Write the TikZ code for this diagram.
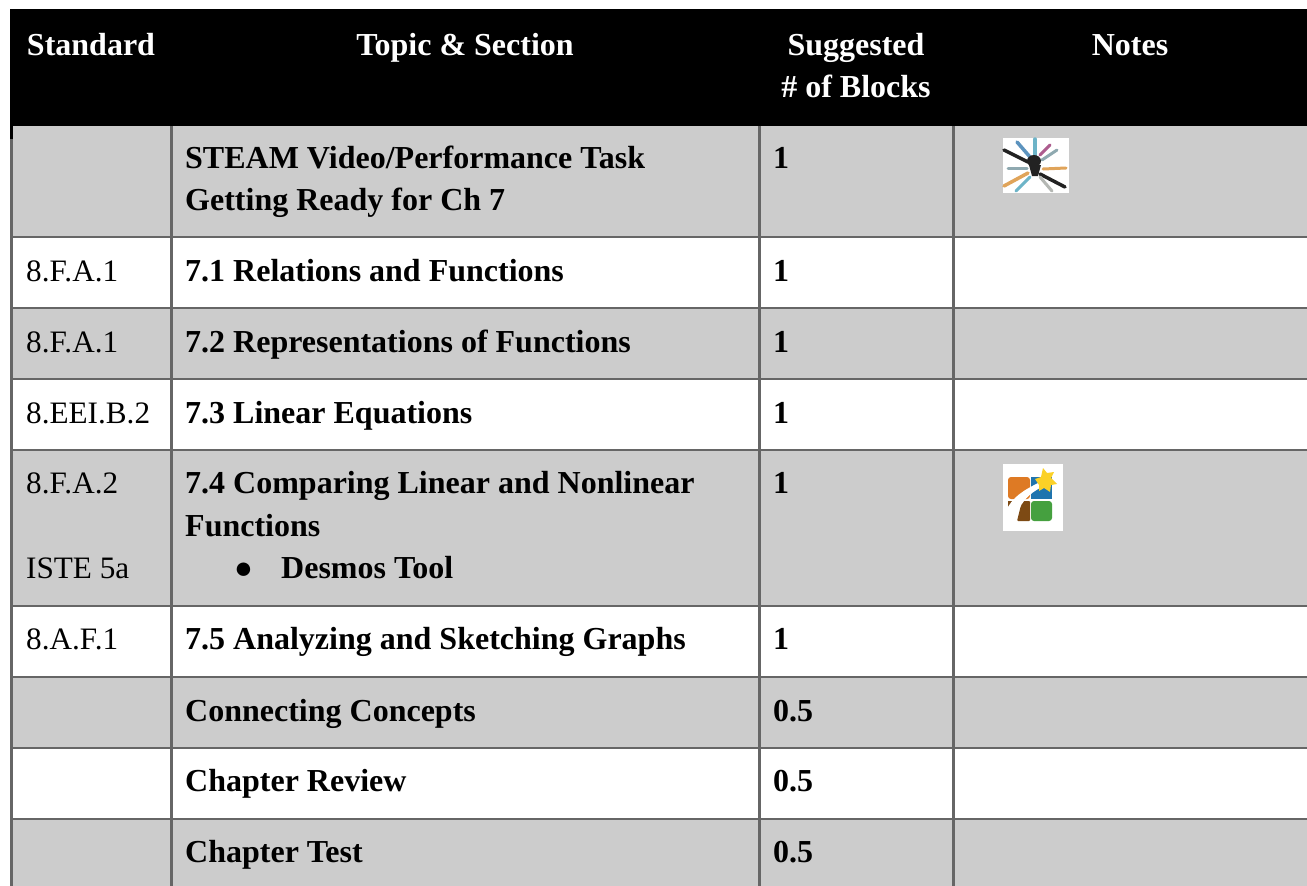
\documentclass[tikz,border=0pt]{standalone}
\usepackage{fontspec}
\setmainfont{Liberation Serif}
\definecolor{cellgray}{HTML}{CCCCCC}
\definecolor{rulegray}{HTML}{666666}
\definecolor{icOrange}{HTML}{DE7A24}
\definecolor{icBlue}{HTML}{1F74AE}
\definecolor{icGreen}{HTML}{45A03F}
\definecolor{icBrown}{HTML}{7D4A14}
\definecolor{icYellow}{HTML}{FBD127}
\definecolor{stBlack}{HTML}{222222}
\definecolor{stBlue}{HTML}{5C93BE}
\definecolor{stTeal}{HTML}{6DB4C8}
\definecolor{stMag}{HTML}{AD5C8E}
\definecolor{stGrey}{HTML}{8FA9B0}
\definecolor{stOrange}{HTML}{E0A45A}
\definecolor{stLight}{HTML}{B5B8B4}
\tikzset{
  x=1pt,y=-1pt,
  cell/.style={anchor=base west,inner sep=0pt,font=\fontsize{32}{32}\selectfont\bfseries,text=black},
  std/.style={anchor=base west,inner sep=0pt,font=\fontsize{31.2}{32}\selectfont,text=black},
  head/.style={anchor=base,inner sep=0pt,font=\fontsize{32}{32}\selectfont\bfseries,text=white},
  rulev/.style={draw=rulegray,line width=2.8pt},
  ruleh/.style={draw=rulegray,line width=2.8pt},
}
\begin{document}
\begin{tikzpicture}
\useasboundingbox (0,0) rectangle (1307,886);
\fill[white] (0,0) rectangle (1307,886);
% row fills
\fill[cellgray] (11,126) rectangle (1307,237);
\fill[cellgray] (11,308) rectangle (1307,379);
\fill[cellgray] (11,450) rectangle (1307,606);
\fill[cellgray] (11,677) rectangle (1307,748);
\fill[cellgray] (11,819) rectangle (1307,886);
% rules
\foreach \y in {237,308,379,450,606,677,748,819} \draw[ruleh] (11,\y) -- (1307,\y);
\draw[rulev] (11.5,139) -- (11.5,886);
\foreach \x in {171.5,759.5,953.5} \draw[rulev] (\x,126) -- (\x,886);
% header
\fill[black] (10,9) rectangle (1307,126);
\fill[black] (10,126) rectangle (13,139);
% header text
\node[head] (hstd) at (91,55) {Standard};
\node[head] (htop) at (465,55) {Topic \& Section};
\node[head] (hsug) at (856,55) {Suggested};
\node[head] (hblk) at (856,97) {\# of Blocks};
\node[head] (hnot) at (1130,55) {Notes};
% column 1
\node[std] (s1) at (26,281) {8.F.A.1};
\node[std] (s2) at (26,352) {8.F.A.1};
\node[std] (s3) at (26,423) {8.EEI.B.2};
\node[std] (s4) at (26,493) {8.F.A.2};
\node[std] (s4b) at (26,578) {ISTE 5a};
\node[std] (s5) at (26,649) {8.A.F.1};
% column 2
\node[cell] (t0a) at (185,168) {STEAM Video/Performance Task};
\node[cell] (t0b) at (185,210) {Getting Ready for Ch 7};
\node[cell] (t1) at (185,281) {7.1 Relations and Functions};
\node[cell] (t2) at (185,352) {7.2 Representations of Functions};
\node[cell] (t3) at (185,423) {7.3 Linear Equations};
\node[cell] (t4a) at (185,493) {7.4 Comparing Linear and Nonlinear};
\node[cell] (t4b) at (185,536) {Functions};
\node[std] (t4c) at (234,578) {●};
\node[cell] (t4d) at (281,578) {Desmos Tool};
\node[cell] (t5) at (185,649) {7.5 Analyzing and Sketching Graphs};
\node[cell] (t6) at (185,721) {Connecting Concepts};
\node[cell] (t7) at (185,791) {Chapter Review};
\node[cell] (t8) at (185,862) {Chapter Test};
% column 3
\foreach \n/\y/\t in {b0/168/1,b1/281/1,b2/352/1,b3/423/1,b4/493/1,b5/649/1,b6/721/0.5,b7/791/0.5,b8/862/0.5}
  \node[cell] (\n) at (773,\y) {\t};
% icon 1
\fill[white] (1003,138) rectangle (1069,193);
\begin{scope}[line cap=round]
\draw[line width=3.5pt,color=stBlack] (1004,150) -- (1028,162);
\draw[line width=3.5pt,color=stBlack] (1040,174) -- (1065,187);
\draw[line width=3.5pt,color=stBlue] (1017,142) -- (1030,157);
\draw[line width=3.5pt,color=stTeal] (1035,139) -- (1035,155);
\draw[line width=3pt,color=stMag] (1050,145) -- (1040,155);
\draw[line width=3pt,color=stGrey] (1057,150) -- (1042,160);
\draw[line width=3pt,color=stGrey] (1008,168) -- (1027,168);
\draw[line width=3pt,color=stOrange] (1043,169) -- (1066,168);
\draw[line width=3.5pt,color=stOrange] (1004,186) -- (1028,173);
\draw[line width=3pt,color=stTeal] (1016,191) -- (1030,177);
\draw[line width=3pt,color=stLight] (1040,177) -- (1052,191);
\fill[stBlack] (1034,161) ellipse (7 and 6);
\fill[stBlack] (1029,165) -- (1041,165) -- (1038,176) -- (1032,176) -- cycle;
\end{scope}
% icon 2
\fill[white] (1003,464) rectangle (1063,531);
\fill[icOrange,rounded corners=3pt] (1008,477) -- (1030,477) -- (1030,499) -- (1008,499) -- cycle;
\fill[icBrown] (1008,501) -- (1012,501) -- (1012,508) -- (1008,510) -- cycle;
\fill[icBrown,rounded corners=1pt] (1017,521) -- (1030,521) -- (1030,501) -- (1022,501) -- cycle;
\fill[icBlue] (1031,477) rectangle (1052,499);
\fill[icGreen,rounded corners=3pt] (1031,501) -- (1052,501) -- (1052,521) -- (1031,521) -- cycle;
\fill[white] (1006,511) .. controls (1012,497) and (1024,490) .. (1040,482) -- (1042,487) .. controls (1028,494) and (1019,503) .. (1015,522) -- (1010,522) -- cycle;
\fill[icYellow] (1043,468) -- (1047,473) -- (1054,472) -- (1051,478) -- (1057,484) -- (1051,485) -- (1050,492) -- (1044,488) -- (1039,491) -- (1039,485) -- (1035,479) -- (1041,477) -- cycle;
\end{tikzpicture}
\end{document}
